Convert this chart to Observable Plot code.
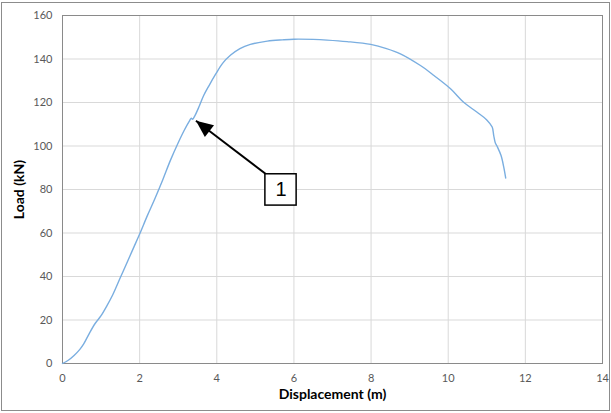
<!DOCTYPE html>
<html>
<head>
<meta charset="utf-8">
<script src="https://cdn.jsdelivr.net/npm/d3@7"></script>
<script src="https://cdn.jsdelivr.net/npm/@observablehq/plot@0.6"></script>
<style>
  html, body { margin: 0; padding: 0; background: #fff; }
  #wrap { position: relative; width: 611px; height: 413px; }
  #border { position: absolute; left: 1px; top: 2px; width: 607px; height: 407px; border: 1px solid #8c8c8c; pointer-events: none; }
  #chart { position: absolute; left: 0; top: 0; }
</style>
</head>
<body>
<div id="wrap"><div id="chart"></div><div id="border"></div></div>
<script>
const displacement = [0, 0.15, 0.3, 0.45, 0.55, 0.7, 0.85, 1.0, 1.15, 1.3, 1.5, 1.7, 1.85, 2.0, 2.2, 2.4, 2.6, 2.8, 3.0, 3.15, 3.3, 3.34, 3.37, 3.42, 3.55, 3.66, 3.8, 3.97, 4.15, 4.36, 4.6, 4.87, 5.31, 5.7, 6.0, 6.5, 6.86, 7.38, 7.99, 8.4, 8.76, 9.28, 9.63, 10.06, 10.4, 10.75, 11.0, 11.14, 11.18, 11.22, 11.27, 11.37, 11.44, 11.49];
const load = [0, 1.5, 3.7, 6.5, 9, 14, 18.5, 22, 26.5, 31.5, 39.5, 47.5, 53.5, 59.5, 68, 76, 84.5, 93.5, 101.5, 107, 111.8, 112.8, 112.3, 113.5, 118.5, 123.2, 127.8, 133, 138, 141.8, 144.8, 146.7, 148.2, 148.8, 149.1, 149, 148.7, 148, 146.7, 144.8, 142.4, 137, 132.4, 126.3, 120.1, 115.5, 112, 108.7, 104.8, 101.5, 99.8, 95.6, 90.3, 85.3];
const xTicks = [0, 2, 4, 6, 8, 10, 12, 14];
const yTicks = [0, 20, 40, 60, 80, 100, 120, 140, 160];
const calloutLabel = ["1"];
const calloutBox = [{x1: 5.26, x2: 6.07, y1: 72.6, y2: 87.0}];
const calloutArrow = [{x1: 5.28, y1: 87.0, x2: 3.46, y2: 111.6}];

const data = displacement.map((d, i) => ({x: d, y: load[i]}));

// arrowhead symbol: tip at origin, pointing up
const headSymbol = {
  draw(ctx, size) {
    const L = 17, W = 7.5;
    ctx.moveTo(0, 0);
    ctx.lineTo(W, L);
    ctx.lineTo(-W, L);
    ctx.closePath();
  }
};

const chart = Plot.plot({
  width: 611,
  height: 413,
  marginLeft: 62,
  marginRight: 9,
  marginTop: 15,
  marginBottom: 50,
  style: {fontFamily: "Lato, 'Open Sans', sans-serif", fontSize: "11px", color: "#595959", background: "transparent"},
  x: {domain: [0, 14], ticks: xTicks, tickSize: 0, tickPadding: 10, label: null},
  y: {domain: [0, 160], ticks: yTicks, tickSize: 0, tickPadding: 10, label: null},
  marks: [
    Plot.gridX(xTicks, {stroke: "#d9d9d9", strokeOpacity: 1}),
    Plot.gridY(yTicks, {stroke: "#d9d9d9", strokeOpacity: 1}),
    Plot.frame({stroke: "#8a8a8a"}),
    Plot.axisX({ticks: xTicks, tickSize: 0, tickPadding: 11, label: null, fill: "#595959"}),
    Plot.axisY({ticks: yTicks, tickSize: 0, tickPadding: 10, label: null, fill: "#595959"}),
    Plot.line(data, {x: "x", y: "y", stroke: "#7aaee0", strokeWidth: 1.4, curve: "catmull-rom"}),
    Plot.link(calloutArrow, {x1: "x1", y1: "y1", x2: "x2", y2: "y2", stroke: "#000", strokeWidth: 2}),
    Plot.dot(calloutArrow, {x: "x2", y: "y2", symbol: headSymbol, fill: "#000", stroke: "none", rotate: -52.5, r: 5}),
    Plot.rect(calloutBox, {x1: "x1", x2: "x2", y1: "y1", y2: "y2", fill: "#fff", stroke: "#000", strokeWidth: 1.5}),
    Plot.text(calloutLabel, {x: d => (calloutBox[0].x1 + calloutBox[0].x2) / 2, y: d => (calloutBox[0].y1 + calloutBox[0].y2) / 2, text: d => d, fontSize: 20, fill: "#000", fontFamily: "Liberation Sans, Arial, sans-serif"}),
    Plot.text(["Displacement (m)"], {frameAnchor: "bottom", textAnchor: "middle", dy: 35, text: d => d, fontWeight: "bold", fontSize: 14, fill: "#000"}),
    Plot.text(["Load (kN)"], {frameAnchor: "left", textAnchor: "middle", dx: -43, rotate: -90, text: d => d, fontWeight: "bold", fontSize: 14, fill: "#000"})
  ]
});
document.getElementById("chart").appendChild(chart);
</script>
</body>
</html>
